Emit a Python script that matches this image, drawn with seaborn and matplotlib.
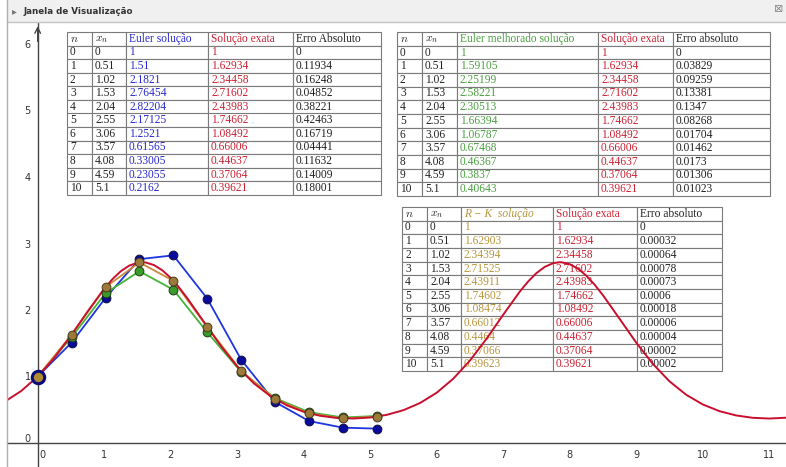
import numpy as np
import pandas as pd
import matplotlib
matplotlib.use("Agg")
import matplotlib.pyplot as plt
import matplotlib.transforms as mtransforms
import seaborn as sns
from matplotlib.patches import Rectangle
from matplotlib.lines import Line2D

# ---------------- data ----------------
n_idx = [0, 1, 2, 3, 4, 5, 6, 7, 8, 9, 10]
x_n = [0, 0.51, 1.02, 1.53, 2.04, 2.55, 3.06, 3.57, 4.08, 4.59, 5.1]
euler = [1, 1.51, 2.1821, 2.76454, 2.82204, 2.17125, 1.2521, 0.61565, 0.33005, 0.23055, 0.2162]
exact = [1, 1.62934, 2.34458, 2.71602, 2.43983, 1.74662, 1.08492, 0.66006, 0.44637, 0.37064, 0.39621]
err_euler = [0, 0.11934, 0.16248, 0.04852, 0.38221, 0.42463, 0.16719, 0.04441, 0.11632, 0.14009, 0.18001]
heun = [1, 1.59105, 2.25199, 2.58221, 2.30513, 1.66394, 1.06787, 0.67468, 0.46367, 0.3837, 0.40643]
err_heun = [0, 0.03829, 0.09259, 0.13381, 0.1347, 0.08268, 0.01704, 0.01462, 0.0173, 0.01306, 0.01023]
rk = [1, 1.62903, 2.34394, 2.71525, 2.43911, 1.74602, 1.08474, 0.66012, 0.4464, 0.37066, 0.39623]
err_rk = [0, 0.00032, 0.00064, 0.00078, 0.00073, 0.0006, 0.00018, 0.00006, 0.00004, 0.00002, 0.00002]

# exact-solution curve
curve_x = [-0.75, -0.5, -0.25, 0.0, 0.25, 0.5, 0.75, 1.0, 1.125, 1.25, 1.375, 1.5, 1.57,
           1.625, 1.75, 1.875, 2.0, 2.125, 2.25, 2.5,
           2.75, 3.0, 3.25, 3.5, 3.75, 4.0, 4.25, 4.5, 4.75, 5.0, 5.25, 5.5, 5.75, 6.0,
           6.25, 6.5, 6.75, 7.0, 7.25, 7.375, 7.5, 7.625, 7.75, 7.85, 7.875, 8.0, 8.125,
           8.25, 8.375, 8.5, 8.75, 9.0, 9.25, 9.5,
           9.75, 10.0, 10.25, 10.5, 10.75, 11.0, 11.25, 11.5]
curve_y = [0.5058, 0.6191, 0.7808, 1.0, 1.2807, 1.6151, 1.9771, 2.3198, 2.4652, 2.5831,
           2.6668, 2.7115, 2.7183, 2.7143, 2.6751, 2.5963, 2.4826, 2.3404, 2.1772, 1.8193,
           1.4647, 1.1516, 0.8974, 0.7041, 0.5646, 0.4692,
           0.4086, 0.3762, 0.3681, 0.3833, 0.4236, 0.4938, 0.6015, 0.7562, 0.9674, 1.2400,
           1.5684, 1.9290, 2.2774, 2.4289, 2.5549, 2.6483, 2.7036, 2.7183, 2.7177, 2.6895,
           2.6209, 2.5158, 2.3805, 2.2222, 1.8677, 1.5100,
           1.1899, 0.9276, 0.7265, 0.5804, 0.4797, 0.4149, 0.3791, 0.3679, 0.3799, 0.4167]

x_ticks = [0, 1, 2, 3, 4, 5, 6, 7, 8, 9, 10, 11]
y_ticks = [0, 1, 2, 3, 4, 5, 6]

hdr_euler = ["$n$", "$x_n$", "Euler solução", "Solução exata", "Erro Absoluto"]
hdr_heun = ["$n$", "$x_n$", "Euler melhorado solução", "Solução exata", "Erro absoluto"]
hdr_rk = ["$n$", "$x_n$", "R − K  solução", "Solução exata", "Erro absoluto"]
title_text = "Janela de Visualização"

# ---------------- style ----------------
sns.set_style("white")
plt.rcParams["font.family"] = ["DejaVu Sans"]
plt.rcParams["mathtext.fontset"] = "cm"

BLUE_L, BLUE_M = "#1f35e0", "#0a0a9c"
GREEN_L, GREEN_M = "#45b238", "#3a9a2a"
RK_L, RK_M = "#c8893a", "#9c7a3a"
RED = "#c8102e"
TXT_BLUE, TXT_RED, TXT_GREEN, TXT_RK = "#2a2acc", "#cc2233", "#4aa040", "#b8963c"

W, H = 786, 467
HEAD = 22
LEFT = 7
fig = plt.figure(figsize=(W / 100, H / 100), dpi=100)
ax = fig.add_axes([LEFT / W, 0, (W - LEFT) / W, (H - HEAD) / H])

PXU = 66.5
X0PX, Y0PX = 37.7, 443.0
ax.set_xlim((LEFT - X0PX) / PXU, (W - X0PX) / PXU)
ax.set_ylim((Y0PX - H) / PXU, (Y0PX - HEAD) / PXU)

# axes through origin
for s in ["top", "right"]:
    ax.spines[s].set_visible(False)
ax.spines["left"].set_position(("data", 0))
ax.spines["bottom"].set_position(("data", 0))
for s in ["left", "bottom"]:
    ax.spines[s].set_color("#444444")
    ax.spines[s].set_linewidth(1.0)
ax.set_xticks(x_ticks)
ax.set_yticks(y_ticks)
ax.tick_params(direction="out", length=3, width=0.8, colors="#444444",
               labelsize=7, labelcolor="#333333", pad=2)
# GeoGebra nudges the origin labels off the axes
xt0 = ax.xaxis.get_major_ticks()[0].label1
xt0.set_transform(xt0.get_transform() + mtransforms.ScaledTranslation(5 / 100, 0, fig.dpi_scale_trans))
yt0 = ax.yaxis.get_major_ticks()[0].label1
yt0.set_transform(yt0.get_transform() + mtransforms.ScaledTranslation(0, 5 / 100, fig.dpi_scale_trans))

ax.annotate("", xy=(0, 0.997), xytext=(0, 0.95), xycoords=ax.get_xaxis_transform(),
            arrowprops=dict(arrowstyle="->", color="#444444", lw=1.0))

# ---------------- lines & points ----------------
sns.lineplot(x=x_n, y=euler, color=BLUE_L, lw=1.3, ax=ax, zorder=3)
sns.lineplot(x=x_n, y=heun, color=GREEN_L, lw=1.3, ax=ax, zorder=3)
sns.lineplot(x=x_n, y=rk, color=RK_L, lw=1.3, ax=ax, zorder=3)
sns.lineplot(x=curve_x, y=curve_y, color=RED, lw=1.4, ax=ax, zorder=4)

sns.scatterplot(x=x_n, y=euler, color=BLUE_M, edgecolor="#101040", s=40, linewidth=0.7, ax=ax, zorder=5)
sns.scatterplot(x=x_n, y=heun, color=GREEN_M, edgecolor="#1d3d14", s=40, linewidth=0.7, ax=ax, zorder=6)
sns.scatterplot(x=x_n, y=rk, color=RK_M, edgecolor="#4a3a1a", s=40, linewidth=0.7, ax=ax, zorder=7)
sns.scatterplot(x=x_n[:1], y=rk[:1], color="#b08a30", edgecolor="#0a0a7a", s=80, linewidth=2.2, ax=ax, zorder=8)

# ---------------- tables ----------------
def fmt(v):
    s = f"{v:.5f}".rstrip("0").rstrip(".")
    return s if s else "0"


def make_table(cols_px, top_px, bot_px, header, hcolors, italic_col, values, vcolors):
    cols_px = np.array(cols_px, dtype=float)
    widths = np.diff(cols_px)
    axh = H - HEAD
    x0 = (cols_px[0] - LEFT) / (W - LEFT)
    x1 = (cols_px[-1] - LEFT) / (W - LEFT)
    y0 = (H - bot_px) / axh
    y1 = (H - top_px) / axh
    rows = [[str(n_idx[i])] + [fmt(col[i]) for col in values] for i in range(len(n_idx))]
    tbl = ax.table(cellText=[header] + rows, colWidths=list(widths / widths.sum()),
                   bbox=[x0, y0, x1 - x0, y1 - y0], cellLoc="left", zorder=2)
    tbl.auto_set_font_size(False)
    tbl.set_fontsize(8.3)
    for (r, c), cell in tbl.get_celld().items():
        cell.set_edgecolor("#7a7a7a")
        cell.set_linewidth(0.8)
        cell.set_facecolor("white")
        cell.PAD = 3.0 / widths[c]
        t = cell.get_text()
        t.set_fontfamily(["Liberation Serif", "DejaVu Serif"])
        if r == 0:
            t.set_color(hcolors[c])
            if c == italic_col:
                t.set_fontstyle("italic")
        else:
            t.set_color(vcolors[c])
    return tbl


make_table([67, 92, 126, 208, 293, 381], 32, 195, hdr_euler,
           ["#222222", "#222222", TXT_BLUE, TXT_RED, "#222222"], None,
           [x_n, euler, exact, err_euler],
           ["#222222", "#222222", TXT_BLUE, TXT_RED, "#222222"])
make_table([397, 422, 457, 598, 673, 770], 32, 196, hdr_heun,
           ["#222222", "#222222", TXT_GREEN, TXT_RED, "#222222"], None,
           [x_n, heun, exact, err_heun],
           ["#222222", "#222222", TXT_GREEN, TXT_RED, "#222222"])
make_table([402, 427, 461, 553, 637, 722], 207, 371, hdr_rk,
           ["#222222", "#222222", TXT_RK, TXT_RED, "#222222"], 2,
           [x_n, rk, exact, err_rk],
           ["#222222", "#222222", TXT_RK, TXT_RED, "#222222"])

# ---------------- window header ----------------
fig.patches.append(Rectangle((LEFT / W, (H - HEAD) / H), (W - LEFT) / W, HEAD / H,
                             transform=fig.transFigure, facecolor="#f0f0f0",
                             edgecolor="none", zorder=0))
fig.lines.append(Line2D([LEFT / W, 1], [(H - HEAD) / H] * 2, transform=fig.transFigure,
                        color="#c4c4c4", lw=1.0))
fig.lines.append(Line2D([LEFT / W, LEFT / W], [0, 1], transform=fig.transFigure,
                        color="#b0b0b0", lw=1.0))
fig.text(14 / W, 1 - 11 / H, "▸", fontsize=7, color="#777777", va="center", ha="center")
fig.text(24 / W, 1 - 11 / H, title_text, fontsize=6.3, fontweight="bold",
         color="#333333", va="center", ha="left")
fig.text(779 / W, 1 - 9 / H, "⊠", fontsize=8, color="#888888", va="center", ha="center")

fig.savefig("out.png", dpi=100)
